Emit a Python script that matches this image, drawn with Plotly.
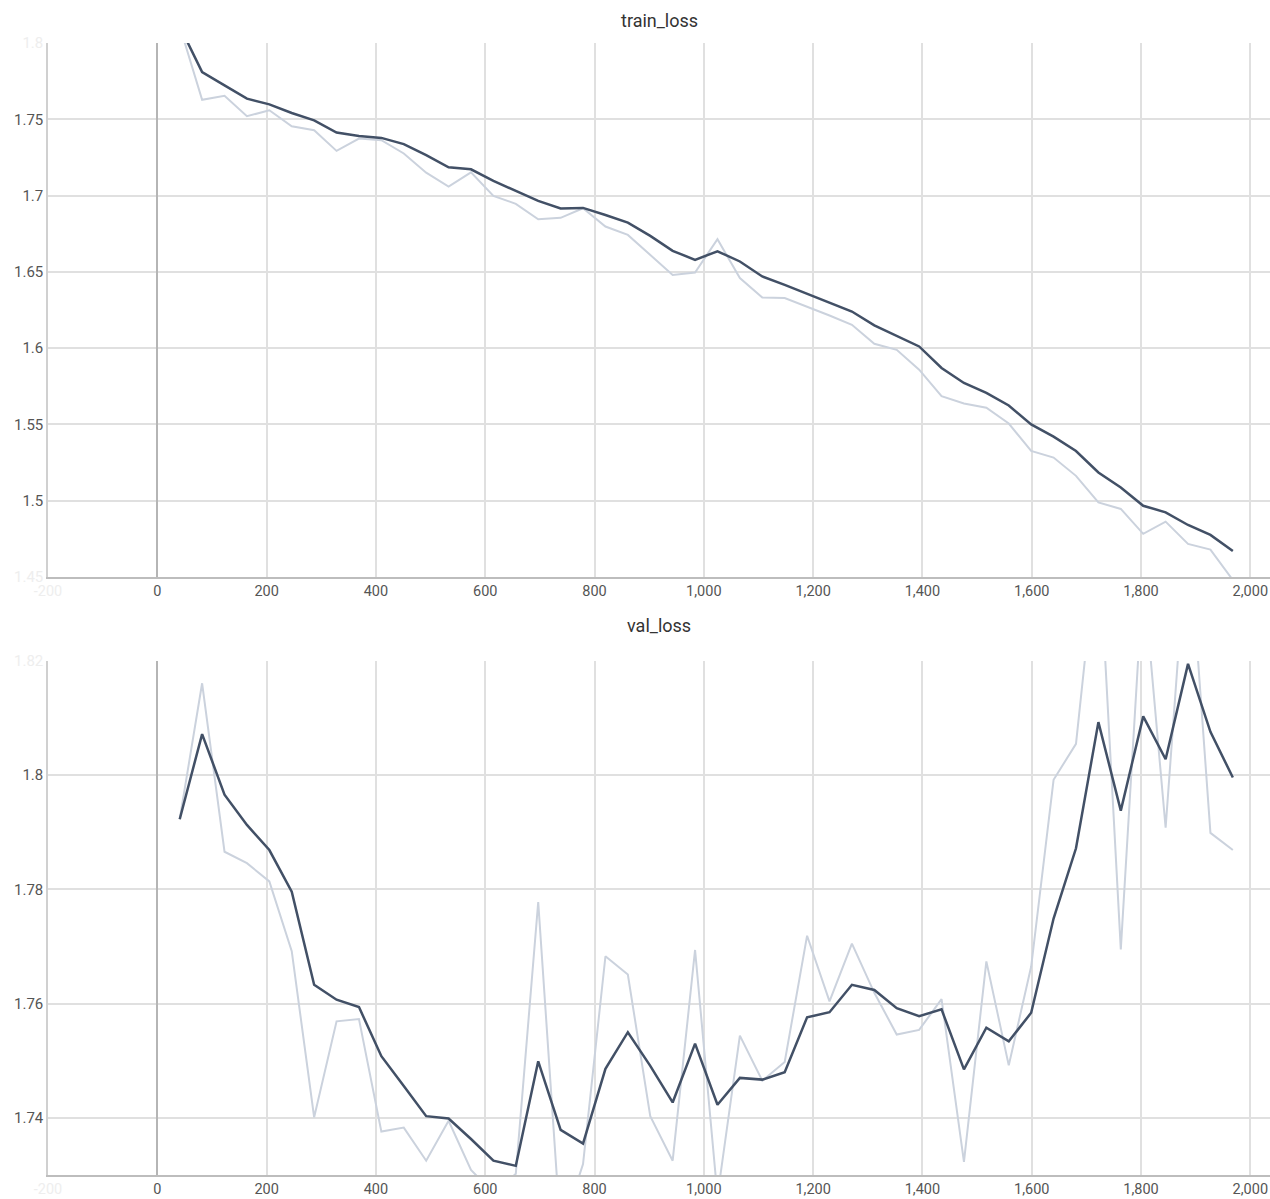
import plotly.graph_objects as go

# ---- data ----
steps = [41, 82, 123, 164, 205, 246, 287, 328, 369, 410, 451, 492, 533, 574, 615, 656,
         697, 738, 779, 820, 861, 902, 943, 984, 1025, 1066, 1107, 1148, 1189, 1230, 1271, 1312,
         1353, 1394, 1435, 1476, 1517, 1558, 1599, 1640, 1681, 1722, 1763, 1804, 1845, 1886, 1927, 1968]

train_raw = [1.811, 1.7628, 1.7654, 1.752, 1.7559, 1.7454, 1.7428, 1.7293, 1.7374, 1.7363, 1.7276, 1.715,
             1.7059, 1.7152, 1.6998, 1.6946, 1.6845, 1.6854, 1.6917, 1.6797, 1.6742, 1.6611, 1.648, 1.6496,
             1.6714, 1.6459, 1.6332, 1.6328, 1.6273, 1.6214, 1.6153, 1.6029, 1.5989, 1.5859, 1.5685, 1.5637,
             1.5609, 1.5506, 1.5326, 1.5283, 1.5163, 1.4989, 1.4946, 1.4783, 1.4863, 1.4717, 1.468, 1.448]

train_smooth = [1.811, 1.7809, 1.7722, 1.7635, 1.7598, 1.7541, 1.7493, 1.7413, 1.7391, 1.7378, 1.7337, 1.7265,
                1.7185, 1.7172, 1.7096, 1.7033, 1.6965, 1.6915, 1.6919, 1.6873, 1.6823, 1.6736, 1.6638, 1.6579,
                1.6635, 1.6568, 1.647, 1.6415, 1.6356, 1.6299, 1.624, 1.6149, 1.608, 1.6011, 1.587, 1.5772,
                1.5707, 1.5624, 1.55, 1.542, 1.5326, 1.5185, 1.5087, 1.4967, 1.4924, 1.4841, 1.4776, 1.467]

val_raw = [1.7923, 1.8161, 1.7866, 1.7846, 1.7814, 1.7692, 1.7401, 1.7569, 1.7573, 1.7376, 1.7383, 1.7325,
           1.7395, 1.7309, 1.7268, 1.7302, 1.7778, 1.7199, 1.7319, 1.7683, 1.7651, 1.7403, 1.7325, 1.7694,
           1.7263, 1.7544, 1.7465, 1.7498, 1.7719, 1.7604, 1.7705, 1.7619, 1.7546, 1.7554, 1.7608, 1.7323,
           1.7674, 1.7492, 1.7665, 1.7992, 1.8055, 1.8425, 1.7695, 1.8351, 1.7908, 1.8446, 1.7899, 1.7869]

val_smooth = [1.7923, 1.8072, 1.7966, 1.7913, 1.7869, 1.7796, 1.7633, 1.7607, 1.7594, 1.7508, 1.7456, 1.7403,
              1.7399, 1.7363, 1.7325, 1.7316, 1.7499, 1.7379, 1.7355, 1.7486, 1.755, 1.7491, 1.7427, 1.753,
              1.7423, 1.747, 1.7467, 1.748, 1.7576, 1.7585, 1.7633, 1.7624, 1.7592, 1.7578, 1.759, 1.7485,
              1.7558, 1.7534, 1.7584, 1.7749, 1.7872, 1.8093, 1.7938, 1.8103, 1.8028, 1.8195, 1.8076, 1.7996]

x_ticks = [-200, 0, 200, 400, 600, 800, 1000, 1200, 1400, 1600, 1800, 2000]
x_labels = ["-200", "0", "200", "400", "600", "800", "1,000", "1,200", "1,400", "1,600", "1,800", "2,000"]
train_yticks = [1.45, 1.5, 1.55, 1.6, 1.65, 1.7, 1.75, 1.8]
train_ylabels = ["1.45", "1.5", "1.55", "1.6", "1.65", "1.7", "1.75", "1.8"]
val_yticks = [1.74, 1.76, 1.78, 1.8, 1.82]
val_ylabels = ["1.74", "1.76", "1.78", "1.8", "1.82"]
titles = ["train_loss", "val_loss"]

# ---- style ----
W, H = 1270, 1199
DARK = "#425066"
LIGHT = "#cbd2dd"
GRID = "#e0e0e0"
TICK = "#555555"
FADE = "#eeeeee"
FONT = "Roboto"


def fade(labels, faded):
    return [f'<span style="color:{FADE}">{t}</span>' if t in faded else t for t in labels]


fig = go.Figure()
fig.add_trace(go.Scatter(x=steps, y=train_raw, mode="lines", line=dict(color=LIGHT, width=2),
                         xaxis="x", yaxis="y", hoverinfo="skip"))
fig.add_trace(go.Scatter(x=steps, y=train_smooth, mode="lines", line=dict(color=DARK, width=2.5),
                         xaxis="x", yaxis="y"))
fig.add_trace(go.Scatter(x=steps, y=val_raw, mode="lines", line=dict(color=LIGHT, width=2),
                         xaxis="x2", yaxis="y2", hoverinfo="skip"))
fig.add_trace(go.Scatter(x=steps, y=val_smooth, mode="lines", line=dict(color=DARK, width=2.5),
                         xaxis="x2", yaxis="y2"))

top_dom = [1 - 577 / H, 1 - 43 / H]
bot_dom = [1 - 1175 / H, 1 - 661 / H]

xcommon = dict(range=[-200, 2036], tickmode="array", tickvals=x_ticks,
               ticktext=fade(x_labels, {"-200"}), showgrid=True, gridcolor=GRID, gridwidth=1.5,
               zeroline=True, zerolinecolor="#b5b5b5", zerolinewidth=2,
               showline=True, linecolor="#bdbdbd", linewidth=2, ticks="", ticklen=0,
               tickfont=dict(family=FONT, size=14.5, color=TICK), domain=[0, 1], automargin=False)
ycommon = dict(tickmode="array", showgrid=True, gridcolor=GRID, gridwidth=1.5, zeroline=False,
               showline=True, linecolor="#d0d0d0", linewidth=1.5, ticks="", ticklen=0,
               tickfont=dict(family=FONT, size=15, color=TICK), automargin=False)

fig.update_layout(
    width=W, height=H,
    margin=dict(l=48, r=0, t=0, b=0),
    paper_bgcolor="white", plot_bgcolor="white",
    showlegend=False,
    font=dict(family=FONT, color="#333"),
    xaxis=dict(**xcommon, anchor="y"),
    yaxis=dict(**ycommon, domain=top_dom, range=[1.45, 1.8], tickvals=train_yticks,
               ticktext=fade(train_ylabels, {"1.45", "1.8"}), anchor="x"),
    xaxis2=dict(**xcommon, anchor="y2"),
    yaxis2=dict(**ycommon, domain=bot_dom, range=[1.73, 1.82], tickvals=val_yticks,
                ticktext=fade(val_ylabels, {"1.82"}), anchor="x2"),
    annotations=[
        dict(text=titles[0], x=0.5, y=1 - 20 / H, xref="paper", yref="paper", showarrow=False,
             xanchor="center", yanchor="middle",
             font=dict(family=FONT, size=18, color="#333")),
        dict(text=titles[1], x=0.5, y=1 - 625 / H, xref="paper", yref="paper", showarrow=False,
             xanchor="center", yanchor="middle",
             font=dict(family=FONT, size=18, color="#333")),
    ],
)

fig.write_html("out.html", config={"displayModeBar": False},
               post_script="document.body.style.margin='0';")
